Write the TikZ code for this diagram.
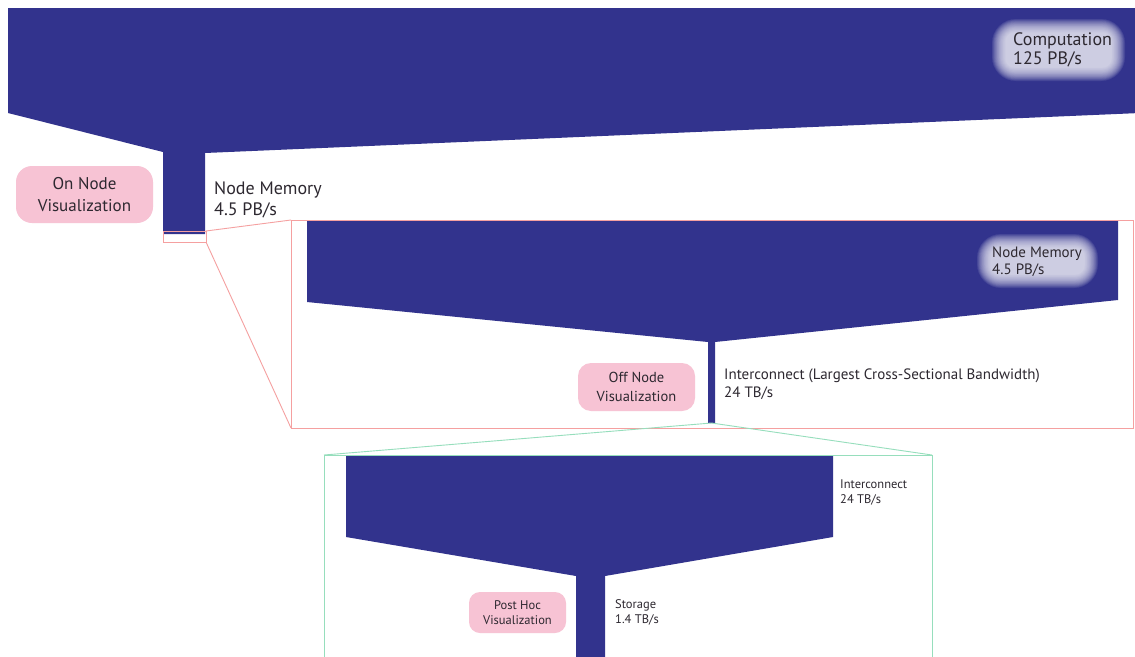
\documentclass[tikz,border=0pt]{standalone}
\usepackage{fontspec}
\setmainfont{PT Sans}
\definecolor{funnel}{RGB}{50,51,141}
\definecolor{pinkbox}{RGB}{247,195,212}
\definecolor{zoomred}{RGB}{245,160,160}
\definecolor{zoomgreen}{RGB}{150,222,188}
\definecolor{txt}{RGB}{45,40,48}
\tikzset{
  funnelshape/.style={fill=funnel, draw=none},
  vizbox/.style={fill=pinkbox, draw=none, rounded corners=#1, text=txt, align=center, inner sep=0pt},
  lbl/.style={text=txt, align=left, inner sep=0pt, anchor=base west},
  redzoom/.style={draw=zoomred, line width=0.9pt},
  greenzoom/.style={draw=zoomgreen, line width=0.9pt},
}
\newcommand{\myglow}[4]{%
  \foreach \i in {0,...,15}{%
    \pgfmathsetmacro{\rc}{max(24-\i,3)}%
    \fill[white, fill opacity=0.09, rounded corners=\rc pt] ({#1+0.9*\i},{#2+0.9*\i}) rectangle ({#3-0.9*\i},{#4-0.9*\i});
  }%
}
\begin{document}
\begin{tikzpicture}[x=1pt,y=-1pt]
\clip (0,0) rectangle (1135,656);
\fill[white] (0,0) rectangle (1135,656);

% ---- level 1: computation -> node memory
\fill[funnelshape] (8,8) -- (1140,8) -- (1140,113) -- (205,153) -- (205,234)
  -- (163,234) -- (163,152) -- (8,113) -- cycle;
\myglow{992}{19}{1125}{81}
\node[lbl, font=\fontsize{18}{19}\selectfont] (comp) at (1013,64.5) {Computation\\125 PB/s};

\node[vizbox=16pt, minimum width=137pt, minimum height=57pt,
      font=\fontsize{17}{22}\selectfont] (onnode) at (84.5,194.5) {On Node\\Visualization};
\node[lbl, font=\fontsize{18}{21.5}\selectfont] (nm1) at (214,215.5) {Node Memory\\4.5 PB/s};

% ---- level 2: node memory -> interconnect
\fill[funnelshape] (307,221) -- (1118,221) -- (1118,300) -- (715,342) -- (715,423)
  -- (708,423) -- (708,342) -- (307,302) -- cycle;
\myglow{977}{234}{1098}{288}
\node[lbl, font=\fontsize{15}{17}\selectfont] (nm2) at (992,274) {Node Memory\\4.5 PB/s};

\node[vizbox=13pt, minimum width=117pt, minimum height=48pt,
      font=\fontsize{14.5}{19}\selectfont] (offnode) at (636.5,387) {Off Node\\Visualization};
\node[lbl, font=\fontsize{15}{18}\selectfont] (ic1) at (724,397) {Interconnect (Largest Cross-Sectional Bandwidth)\\24 TB/s};

% zoom frame 1 (red)
\coordinate (r1nw) at (163,231);
\coordinate (r1se) at (206,242);
\coordinate (r1ne) at (206,231);
\coordinate (R1nw) at (291,220);
\coordinate (R1se) at (1133,428);
\coordinate (R1sw) at (291,428);
\draw[redzoom] (r1nw) rectangle (r1se);
\draw[redzoom] (R1nw) rectangle (R1se);
\draw[redzoom] (r1ne) -- (R1nw);
\draw[redzoom] (r1se) -- (R1sw);

% ---- level 3: interconnect -> storage
\fill[funnelshape] (346,455) -- (833,455) -- (833,537) -- (605,576) -- (605,660)
  -- (576,660) -- (576,576) -- (346,537) -- cycle;
\node[lbl, font=\fontsize{12.5}{15}\selectfont] (ic2) at (840,503) {Interconnect\\24 TB/s};
\node[vizbox=11pt, minimum width=97pt, minimum height=41pt,
      font=\fontsize{12.5}{15}\selectfont] (posthoc) at (517.5,612.5) {Post Hoc\\Visualization};
\node[lbl, font=\fontsize{12.5}{15}\selectfont] (stor) at (615,623) {Storage\\1.4 TB/s};

% zoom frame 2 (green)
\coordinate (g1) at (711.5,423);
\coordinate (G1nw) at (324,455);
\coordinate (G1ne) at (932,455);
\coordinate (G1sw) at (324,670);
\coordinate (G1se) at (932,670);
\draw[greenzoom] (G1sw) -- (G1nw) -- (G1ne) -- (G1se);
\draw[greenzoom] (G1nw) -- (g1) -- (G1ne);
\end{tikzpicture}
\end{document}
